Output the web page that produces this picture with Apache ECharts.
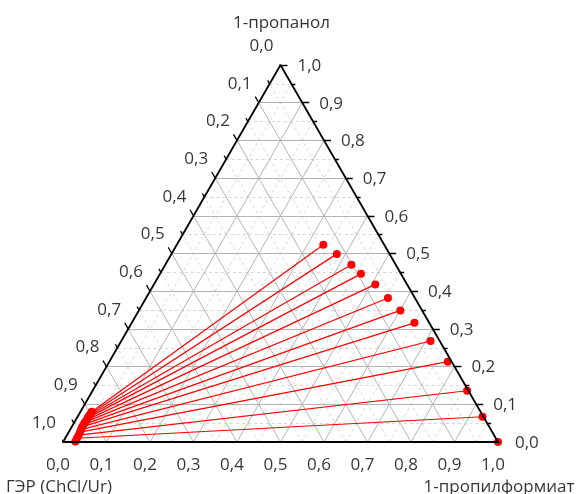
<!DOCTYPE html>
<html><head><meta charset="utf-8">
<script src="https://cdn.jsdelivr.net/npm/echarts@6/dist/echarts.min.js"></script>
<style>html,body{margin:0;padding:0;background:#fff}#c{width:576px;height:494px}</style>
</head><body><div id="c"></div>
<script>
// ---- data ----
const tickValues = [0, 0.1, 0.2, 0.3, 0.4, 0.5, 0.6, 0.7, 0.8, 0.9, 1.0];
const tickLabels = ['0,0','0,1','0,2','0,3','0,4','0,5','0,6','0,7','0,8','0,9','1,0'];
const titleTop = '1-пропанол';
const titleLeft = 'ГЭР (ChCl/Ur)';
const titleRight = '1-пропилформиат';
// organic (ester-rich) phase: mass fractions
const rightPropanol = [0.523, 0.499, 0.470, 0.446, 0.418, 0.382, 0.349, 0.316, 0.268, 0.213, 0.136, 0.067, 0.0];
const rightFormate  = [0.337, 0.380, 0.428, 0.462, 0.509, 0.556, 0.601, 0.650, 0.711, 0.778, 0.861, 0.931, 1.0];
// DES-rich phase: mass fractions
const leftPropanol = [0.080, 0.075, 0.069, 0.064, 0.058, 0.052, 0.046, 0.040, 0.033, 0.026, 0.018, 0.010, 0.001];
const leftFormate  = [0.026, 0.026, 0.025, 0.025, 0.025, 0.024, 0.024, 0.024, 0.025, 0.026, 0.027, 0.027, 0.028];

// ---- helpers ----
const S = Math.sqrt(3) / 2;
function xy(b, c) { return [b + c / 2, c * S]; }
const PX = 1 / 435;
const FONT = '"Open Sans", "Noto Sans", sans-serif';

const majorGrid = [], minorGrid = [];
for (let i = 1; i < 20; i++) {
  const v = i / 20;
  const arr = (i % 2 === 0) ? majorGrid : minorGrid;
  arr.push({coords: [xy(0, v), xy(1 - v, v)]});
  arr.push({coords: [xy(v, 0), xy(v, 1 - v)]});
  arr.push({coords: [xy(1 - v, 0), xy(0, 1 - v)]});
}
const ticks = [];
for (let i = 0; i <= 20; i++) {
  const v = i / 20;
  const L = (i % 2 === 0 ? 7 : 4) * PX;
  let p = xy(1 - v, v); ticks.push({coords: [p, [p[0] + L, p[1]]]});
  p = xy(v, 0); ticks.push({coords: [p, [p[0] - 0.5 * L, p[1] - S * L]]});
  p = xy(0, 1 - v); ticks.push({coords: [p, [p[0] - 0.5 * L, p[1] + S * L]]});
}
const edges = [
  {coords: [xy(0, 0), xy(1, 0)]},
  {coords: [xy(1, 0), xy(0, 1)]},
  {coords: [xy(0, 1), xy(0, 0)]}
];
const ties = rightPropanol.map((c, i) => ({coords: [xy(leftFormate[i], leftPropanol[i]), xy(rightFormate[i], c)]}));
const rightPts = rightPropanol.map((c, i) => xy(rightFormate[i], c));
const leftPts = leftPropanol.map((c, i) => xy(leftFormate[i], c));

const labelStyle = {color: '#000', fontSize: 17, fontFamily: FONT};
function labelSeries(points, texts, align, offset) {
  return {
    type: 'scatter', symbolSize: 0, z: 10, silent: true,
    data: points.map((p, i) => ({value: p, name: texts[i]})),
    label: Object.assign({show: true, position: 'inside', formatter: '{b}', align: align, verticalAlign: 'middle', offset: offset}, labelStyle)
  };
}
const bottomPos = tickValues.map(v => xy(v, 0));
const rightPos = tickValues.map(v => xy(1 - v, v));
const leftPos = tickValues.map(v => xy(0, 1 - v));

const chart = echarts.init(document.getElementById('c'), null, {renderer: 'canvas'});
chart.setOption({
  animation: false,
  grid: {left: 63, top: 65, width: 435, height: 377, containLabel: false},
  xAxis: {type: 'value', min: 0, max: 1, show: false},
  yAxis: {type: 'value', min: 0, max: S, show: false},
  series: [
    {type: 'lines', coordinateSystem: 'cartesian2d', silent: true, z: 1, data: minorGrid,
     lineStyle: {color: '#d6d6d6', width: 1, type: [3, 3], opacity: 1}},
    {type: 'lines', coordinateSystem: 'cartesian2d', silent: true, z: 2, data: majorGrid,
     lineStyle: {color: '#b4b4b4', width: 1, opacity: 1}},
    {type: 'lines', coordinateSystem: 'cartesian2d', silent: true, z: 3, data: ties,
     lineStyle: {color: '#ff0000', width: 1.2, opacity: 1}},
    {type: 'scatter', z: 4, symbol: 'circle', symbolSize: 8, data: rightPts, itemStyle: {color: '#ff0000', opacity: 1}},
    {type: 'scatter', z: 4, symbol: 'circle', symbolSize: 8, data: leftPts, itemStyle: {color: '#ff0000', opacity: 1}},
    {type: 'lines', coordinateSystem: 'cartesian2d', silent: true, z: 5, data: edges,
     lineStyle: {color: '#000', width: 1.8, opacity: 1}},
    {type: 'lines', coordinateSystem: 'cartesian2d', silent: true, z: 5, data: ticks,
     lineStyle: {color: '#000', width: 1.3, opacity: 1}},
    labelSeries(bottomPos, tickLabels, 'center', [-5, 23]),
    labelSeries(rightPos, tickLabels, 'left', [17, 1]),
    labelSeries(leftPos, tickLabels, 'center', [-19, -19]),
    labelSeries([xy(0, 1)], [titleTop], 'center', [1, -42]),
    labelSeries([xy(0, 0)], [titleLeft], 'center', [-4, 45]),
    labelSeries([xy(1, 0)], [titleRight], 'center', [1, 45])
  ]
});
</script>
</body></html>
